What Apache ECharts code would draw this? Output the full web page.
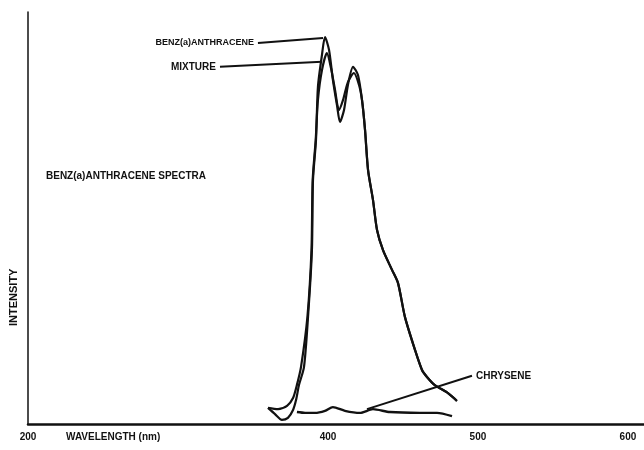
<!DOCTYPE html>
<html><head><meta charset="utf-8">
<script src="https://cdn.jsdelivr.net/npm/echarts@6/dist/echarts.min.js"></script>
<style>html,body{margin:0;padding:0;background:#fff}#c{width:644px;height:450px}</style>
</head><body><div id="c"></div>
<script>
// wavelength (nm), relative intensity (0-100)
const benzAnthracene = [[360,3.9],[364.7,2.4],[369.3,1.0],[373.3,1.5],[376.7,3.4],[378.7,5.8],[380.7,9.5],[384,13.8],[386.7,26],[389.3,42.2],[390,59.2],[392,68.9],[393.3,81.8],[396,89.6],[398,93.9],[400.7,90.8],[403.3,83.5],[406,77.4],[408,73.3],[410.7,76.2],[413.3,82.3],[416.7,86.7],[420,84.7],[422.7,78.6],[424.7,71.4],[426.7,61.7],[430,54.4],[432.7,47.1],[436.7,42.2],[442.7,37.4],[446.7,34.2],[451.3,26],[458,18],[462.7,13.1],[466,11.4],[471,9.5],[480,7.5],[486,5.6]];
const mixture = [[360,3.9],[366.7,3.6],[372.7,4.4],[376.7,6.3],[379.3,9.5],[382,13.8],[386.3,26],[389,42.2],[389.8,59.2],[391.8,68.9],[393.3,78.6],[396,85.9],[399.3,90],[402,86.4],[404.7,81.1],[407.3,76.2],[410,78.6],[413.3,83],[417.3,85.2],[420.7,82.3],[422.7,78.6],[424.7,71.4],[426.7,61.7],[430,54.4],[432.7,47.1],[436.7,42.2],[442.7,37.4],[446.7,34.2],[451.3,26],[458,18],[462.7,13.1],[466,11.4],[471,9.5],[480,7.5],[486,5.6]];
const chrysene = [[379.3,2.9],[384.7,2.7],[391.3,2.7],[398,3.2],[403.3,4.1],[411.3,3.2],[421.3,2.7],[430,3.6],[441.3,2.9],[461.3,2.7],[472.7,2.7],[482.7,1.9]];
const benzLeader = [[353.3,92.5],[396.7,93.7]];
const mixtureLeader = [[328,86.7],[396,87.9]];
const chryseneLeader = [[426,3.6],[496,11.7]];
const xTickLabels = {200:'200',400:'400',500:'500',600:'600'};
const labels = {benz:'BENZ(a)ANTHRACENE', mix:'MIXTURE', chry:'CHRYSENE', title:'BENZ(a)ANTHRACENE SPECTRA', x:'WAVELENGTH (nm)', y:'INTENSITY'};

const FONT = '"Liberation Sans", Arial, sans-serif';
const txt = {fontFamily:FONT, fontWeight:'bold', fontSize:10, color:'#111'};
const lineS = (data, w) => ({type:'line', data, symbol:'none', smooth:0.25, smoothMonotone:'none', lineStyle:{color:'#111', width:w}, silent:true, z:3});
const leader = (data, name, pos, fs) => ({type:'line', data, symbol:'none', lineStyle:{color:'#111', width:2}, silent:true,
  markPoint:{symbol:'circle', symbolSize:0, silent:true,
    data:[{coord: pos==='left'? data[0] : data[1], label:{show:true, position: pos, distance:4, formatter:name, ...txt, fontSize:fs}}]}});

const chart = echarts.init(document.getElementById('c'), null, {renderer:'canvas'});
chart.setOption({
  animation:false,
  backgroundColor:'#fff',
  title:{text:labels.title, left:41, top:166, textStyle:{...txt}},
  grid:{left:28, right:0, top:12, bottom:26},
  xAxis:{type:'value', min:200, max:610.7, interval:100,
    axisLine:{lineStyle:{color:'#111', width:2.5}},
    axisTick:{show:false}, splitLine:{show:false},
    axisLabel:{...txt, fontSize:10, margin:8, showMaxLabel:false, formatter:v=>xTickLabels[v]||''}},
  yAxis:{type:'value', min:0, max:100,
    axisLine:{show:true, lineStyle:{color:'#111', width:1.5}},
    axisTick:{show:false}, splitLine:{show:false}, axisLabel:{show:false}},
  graphic:[
    {type:'text', left:66, top:432, style:{text:labels.x, font:'bold 10px '+FONT, fill:'#111'}},
    {type:'text', x:8, y:326, rotation:Math.PI/2, style:{text:labels.y, font:'bold 11px '+FONT, fill:'#111', textAlign:'left', textVerticalAlign:'top'}}
  ],
  series:[
    lineS(benzAnthracene, 2.2),
    lineS(mixture, 2.2),
    lineS(chrysene, 2.4),
    leader(benzLeader, labels.benz, 'left', 9),
    leader(mixtureLeader, labels.mix, 'left', 10),
    leader(chryseneLeader, labels.chry, 'right', 10)
  ]
});
</script></body></html>
